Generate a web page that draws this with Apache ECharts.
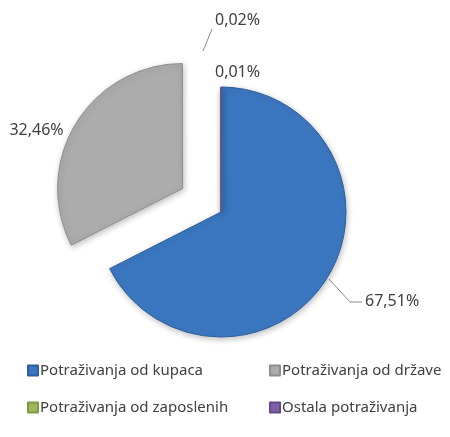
<!DOCTYPE html>
<html>
<head>
<meta charset="utf-8">
<script src="https://cdn.jsdelivr.net/npm/echarts@6/dist/echarts.min.js"></script>
<style>
  html, body { margin: 0; padding: 0; background: #fff; }
  #chart { width: 450px; height: 437px; }
</style>
</head>
<body>
<div id="chart"></div>
<script>
// categories and shares (%)
const categories = [
  "Potraživanja od kupaca",
  "Potraživanja od države",
  "Potraživanja od zaposlenih",
  "Ostala potraživanja",
];
const shares = [67.51, 32.46, 0.01, 0.02];
const baseColors = ["#3b77c0", "#acacac", "#9bbb59", "#7f5fa9"];
const edgeColors = ["#2d5f9f", "#8e8e8e", "#7d9a45", "#644889"];

const textColor = "#404040";
const font = "Noto Sans";

const pct = (v) => v.toFixed(2).replace(".", ",") + "%";

const chart = echarts.init(document.getElementById("chart"));

const legendBase = {
  orient: "vertical",
  top: 358,
  itemWidth: 10,
  itemHeight: 10,
  itemGap: 22,
  icon: "rect",
  selectedMode: false,
  textStyle: { color: textColor, fontSize: 15, fontFamily: font, padding: [0, 0, 0, -3] },
};

const option = {
  animation: false,
  color: baseColors,
  legend: [
    Object.assign({ data: [categories[0], categories[2]], left: 22 }, legendBase),
    Object.assign({ data: [categories[1], categories[3]], left: 264 }, legendBase),
  ],
  series: [
    {
      type: "pie",
      center: [221, 212],
      radius: [0, 125],
      startAngle: 90,
      clockwise: true,
      selectedMode: "single",
      selectedOffset: 45,
      avoidLabelOverlap: false,
      emphasis: { disabled: true },
      itemStyle: {
        borderWidth: 1,
        shadowBlur: 6,
        shadowColor: "rgba(0,0,0,0.25)",
        shadowOffsetX: 1,
        shadowOffsetY: 2,
      },
      label: {
        show: true,
        position: "outside",
        color: textColor,
        fontSize: 16,
        fontFamily: font,
        formatter: (p) => pct(p.value),
      },
      labelLine: {
        show: true,
        length: 34,
        length2: 10,
        lineStyle: { color: "#8c8c8c", width: 1 },
      },
      labelLayout: (p) => {
        if (p.dataIndex === 0) {
          return {
            x: 365,
            y: 301,
            align: "left",
            verticalAlign: "middle",
            labelLinePoints: [[329, 279], [350, 302], [362, 302]],
          };
        }
        if (p.dataIndex === 1) {
          return { dy: 9 };
        }
        if (p.dataIndex === 2) {
          return { x: 215, y: 72, align: "left", verticalAlign: "middle" };
        }
        if (p.dataIndex === 3) {
          return {
            x: 215,
            y: 20,
            align: "left",
            verticalAlign: "middle",
            labelLinePoints: [[203, 51], [212, 29], [212, 29]],
          };
        }
        return {};
      },
      data: categories.map((name, i) => ({
        name,
        value: shares[i],
        selected: i === 1,
        itemStyle: { color: baseColors[i], borderColor: edgeColors[i] },
        labelLine:
          i === 0 || i === 3
            ? { show: true }
            : { show: false, length: 4, length2: 4 },
      })),
    },
  ],
};

chart.setOption(option);
</script>
</body>
</html>
